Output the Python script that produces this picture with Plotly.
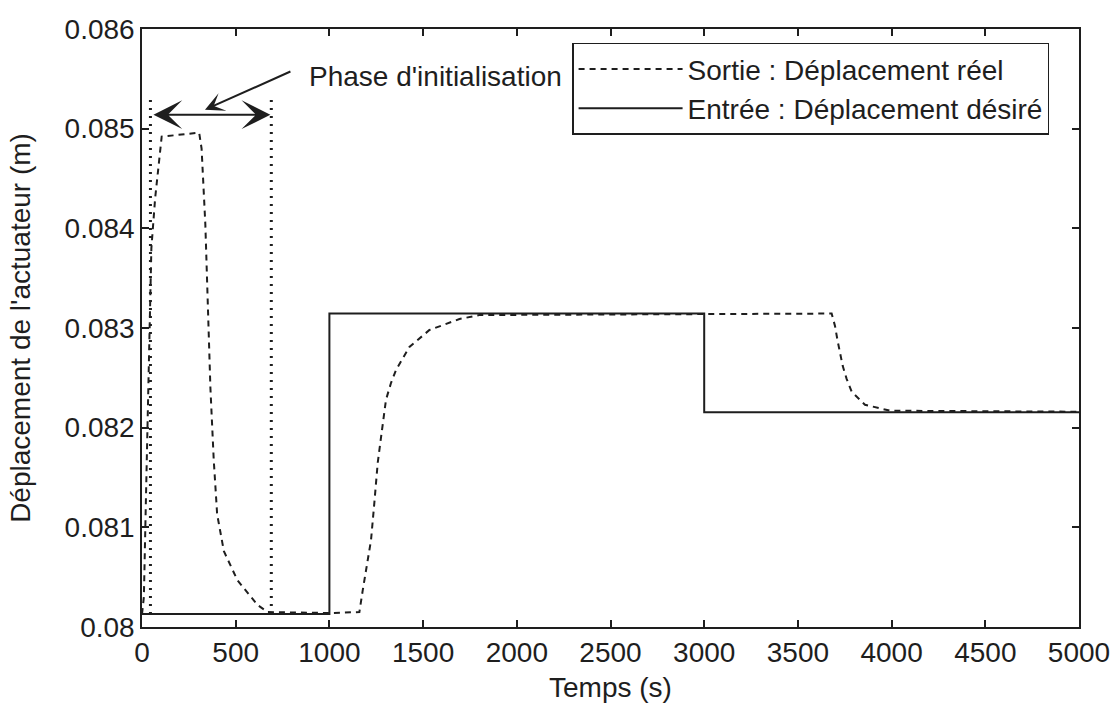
import plotly.graph_objects as go

# Desired displacement (input step profile)
t_in = [0, 1000, 1000, 3000, 3000, 5000]
y_in = [0.08013, 0.08013, 0.083145, 0.083145, 0.082155, 0.082155]

# Measured actuator displacement (output response)
t_out = [0, 10, 20, 35, 50, 70, 90, 105, 305, 318, 338, 350, 365, 383, 401,
         437, 509, 617, 671, 1000, 1160, 1178, 1196, 1222, 1240, 1258, 1276,
         1302, 1329, 1356, 1427, 1534, 1694, 1800, 3680, 3698, 3711, 3725,
         3739, 3760, 3787, 3858, 3938, 3991, 5000]
y_out = [0.08013, 0.0803, 0.0812, 0.0826, 0.0838, 0.0843, 0.0847, 0.08492,
         0.08496, 0.0848, 0.08404, 0.08331, 0.0824, 0.08167, 0.08113,
         0.08076, 0.08047, 0.08022, 0.08015, 0.08014, 0.08015, 0.08037,
         0.08057, 0.08087, 0.08125, 0.08165, 0.08191, 0.08228, 0.08245,
         0.08258, 0.08281, 0.08298, 0.08309, 0.08313, 0.083145, 0.08302,
         0.08288, 0.08275, 0.08262, 0.08249, 0.08236, 0.08223, 0.08219,
         0.08217, 0.08216]

# Boundaries of the initialisation phase
init_start = 45
init_end = 690
marker_low = 0.08013
marker_high = 0.0853
arrow_level = 0.08514

x_ticks = [0, 500, 1000, 1500, 2000, 2500, 3000, 3500, 4000, 4500, 5000]
y_ticks = [0.080, 0.081, 0.082, 0.083, 0.084, 0.085, 0.086]
y_tick_text = ["0.08", "0.081", "0.082", "0.083", "0.084", "0.085", "0.086"]

FONT = "Liberation Sans, Arial, Helvetica, sans-serif"
INK = "#1e1e1e"
FS = 28

fig = go.Figure()

fig.add_trace(go.Scatter(
    x=t_out, y=y_out, mode="lines",
    name="Sortie : Déplacement réel",
    line=dict(color=INK, width=2, dash="6px,5px"),
))
fig.add_trace(go.Scatter(
    x=t_in, y=y_in, mode="lines",
    name="Entrée : Déplacement désiré",
    line=dict(color=INK, width=2),
))

# Dotted vertical markers delimiting the initialisation phase
for xm in (init_start, init_end):
    fig.add_trace(go.Scatter(
        x=[xm, xm], y=[marker_low, marker_high], mode="lines",
        showlegend=False, hoverinfo="skip",
        line=dict(color=INK, width=3, dash="2px,6px"),
    ))

# Double-headed arrow spanning the phase
fig.add_annotation(
    x=init_end - 5, y=arrow_level, ax=init_start + 8, ay=arrow_level,
    xref="x", yref="y", axref="x", ayref="y",
    text="", showarrow=True, arrowside="end+start",
    arrowhead=3, startarrowhead=3, arrowsize=2.4, startarrowsize=2.4,
    arrowwidth=2, arrowcolor=INK,
)

# Label with its pointer
fig.add_annotation(
    x=336, y=0.08519, ax=800, ay=0.08558,
    xref="x", yref="y", axref="x", ayref="y",
    text="", showarrow=True, arrowhead=3, arrowsize=1.6,
    arrowwidth=2, arrowcolor=INK,
)
fig.add_annotation(
    x=880, y=0.08552, xref="x", yref="y",
    text="Phase d'initialisation", showarrow=False,
    xanchor="left", yanchor="middle",
    font=dict(family=FONT, size=FS, color=INK),
)

axis_common = dict(
    showline=True, linecolor=INK, linewidth=1.5, mirror="allticks",
    ticks="inside", ticklen=7, tickwidth=1.5, tickcolor=INK,
    showgrid=False, zeroline=False, automargin=False,
    tickfont=dict(family=FONT, size=FS, color=INK),
    title_font=dict(family=FONT, size=FS, color=INK),
)

fig.update_xaxes(
    range=[0, 5000], tickvals=x_ticks,
    title_text="Temps (s)", title_standoff=10, **axis_common,
)
fig.update_yaxes(
    range=[0.08, 0.086], tickvals=y_ticks, ticktext=y_tick_text,
    title_text="Déplacement de l'actuateur (m)", title_standoff=26,
    **axis_common,
)

fig.update_layout(
    width=1111, height=707,
    margin=dict(l=142, r=32, t=29, b=80),
    paper_bgcolor="white", plot_bgcolor="white",
    legend=dict(
        x=0.459, y=0.977, xanchor="left", yanchor="top",
        bgcolor="white", bordercolor=INK, borderwidth=1.5,
        font=dict(family=FONT, size=FS, color=INK),
        itemwidth=104, tracegroupgap=0,
    ),
)

fig.write_html("out.html")
